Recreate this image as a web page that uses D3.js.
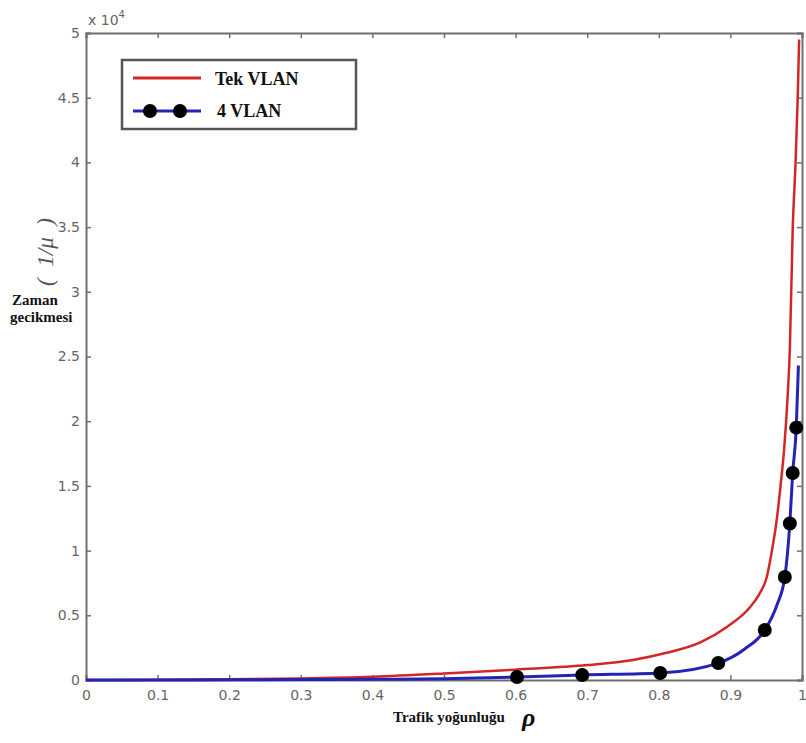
<!DOCTYPE html>
<html>
<head>
<meta charset="utf-8">
<script src="https://cdnjs.cloudflare.com/ajax/libs/d3/7.8.5/d3.min.js"></script>
<style>
  body { margin: 0; background: #fff; }
  .serif { font-family: "Liberation Serif", "Times New Roman", serif; font-weight: bold; fill: #111; }
</style>
</head>
<body>
<div id="chart"></div>
<script>
// values (y in units of 10^4)
var xTicks = [0, 0.1, 0.2, 0.3, 0.4, 0.5, 0.6, 0.7, 0.8, 0.9, 1];
var yTicks = [0, 0.5, 1, 1.5, 2, 2.5, 3, 3.5, 4, 4.5, 5];

// Tek VLAN
var redX = [0, 0.1, 0.2, 0.3, 0.4, 0.5, 0.6, 0.7, 0.764, 0.811, 0.858, 0.895, 0.927, 0.94, 0.951, 0.958, 0.965, 0.97, 0.975, 0.98, 0.983, 0.987, 0.991, 0.994, 0.996];
var redY = [0, 0.002, 0.006, 0.012, 0.025, 0.05, 0.08, 0.115, 0.155, 0.21, 0.29, 0.41, 0.56, 0.66, 0.8, 1.0, 1.25, 1.5, 1.78, 2.2, 2.55, 3.48, 4.0, 4.5, 4.95];

// 4 VLAN line
var blueX = [0, 0.1, 0.2, 0.3, 0.4, 0.5, 0.602, 0.693, 0.802, 0.883, 0.92, 0.948, 0.965, 0.976, 0.983, 0.987, 0.992, 0.995];
var blueY = [0, 0, 0.001, 0.003, 0.005, 0.01, 0.023, 0.039, 0.054, 0.131, 0.24, 0.386, 0.58, 0.796, 1.21, 1.6, 1.95, 2.43];

// 4 VLAN markers
var markX = [0.602, 0.693, 0.802, 0.883, 0.948, 0.976, 0.983, 0.987, 0.992];
var markY = [0.023, 0.039, 0.054, 0.131, 0.386, 0.796, 1.21, 1.6, 1.95];

var W = 806, H = 743;
var margin = {left: 86, right: 802, top: 33, bottom: 680};

var svg = d3.select("#chart").append("svg")
    .attr("width", W)
    .attr("height", H);

var x = d3.scaleLinear().domain([0, 1]).range([margin.left, margin.right]);
var y = d3.scaleLinear().domain([0, 5]).range([margin.bottom, margin.top]);

var axisColor = "#707070";

// frame ticks on top and right
var xTop = svg.append("g")
    .attr("transform", "translate(0," + margin.top + ")")
    .call(d3.axisBottom(x).tickValues(xTicks).tickSize(5).tickFormat(""));
var yRight = svg.append("g")
    .attr("transform", "translate(" + margin.right + ",0)")
    .call(d3.axisLeft(y).tickValues(yTicks).tickSize(5).tickFormat(""));

// bottom and left axes with ticks pointing inward
var xAxis = svg.append("g")
    .attr("transform", "translate(0," + margin.bottom + ")")
    .call(d3.axisTop(x).tickValues(xTicks).tickSize(5).tickFormat(d3.format("")));
xAxis.selectAll("text").attr("y", 10).attr("dy", "0.71em");

var yAxis = svg.append("g")
    .attr("transform", "translate(" + margin.left + ",0)")
    .call(d3.axisRight(y).tickValues(yTicks).tickSize(5).tickFormat(d3.format("")));
yAxis.selectAll("text").attr("x", -6).style("text-anchor", "end");

[xTop, yRight, xAxis, yAxis].forEach(function(g) {
    g.select(".domain").attr("stroke", axisColor).attr("stroke-width", 2);
    g.selectAll(".tick line").attr("stroke", axisColor).attr("stroke-width", 1.5);
    g.selectAll(".tick text")
        .style("font-family", "DejaVu Sans, sans-serif")
        .style("font-size", "14px")
        .style("fill", "#666");
});

// curves
var line = d3.line()
    .x(function(d) { return x(d[0]); })
    .y(function(d) { return y(d[1]); })
    .curve(d3.curveMonotoneX);

svg.append("path")
    .datum(redX.map(function(v, i) { return [v, redY[i]]; }))
    .attr("fill", "none")
    .attr("stroke", "#d42626")
    .attr("stroke-width", 2.5)
    .attr("d", line);

svg.append("path")
    .datum(blueX.map(function(v, i) { return [v, blueY[i]]; }))
    .attr("fill", "none")
    .attr("stroke", "#2424b4")
    .attr("stroke-width", 3)
    .attr("d", line);

svg.selectAll(".mark")
    .data(markX.map(function(v, i) { return [v, markY[i]]; }))
    .enter().append("circle")
    .attr("class", "mark")
    .attr("cx", function(d) { return x(d[0]); })
    .attr("cy", function(d) { return y(d[1]); })
    .attr("r", 7)
    .attr("fill", "#000");

// exponent label
var expo = svg.append("text")
    .attr("x", 88)
    .attr("y", 25)
    .style("font-family", "DejaVu Sans, sans-serif")
    .style("font-size", "14px")
    .style("fill", "#666");
expo.append("tspan").text("x 10");
expo.append("tspan").attr("dy", -7).style("font-size", "10px").text("4");

// legend
var lg = svg.append("g");
lg.append("rect")
    .attr("x", 122).attr("y", 60)
    .attr("width", 234).attr("height", 69)
    .attr("fill", "#fff")
    .attr("stroke", "#555")
    .attr("stroke-width", 2.5);
lg.append("line")
    .attr("x1", 133).attr("x2", 201).attr("y1", 78).attr("y2", 78)
    .attr("stroke", "#d42626").attr("stroke-width", 3);
lg.append("text").attr("class", "serif")
    .attr("x", 215).attr("y", 85)
    .style("font-size", "18px")
    .text("Tek VLAN");
lg.append("line")
    .attr("x1", 133).attr("x2", 201).attr("y1", 111).attr("y2", 111)
    .attr("stroke", "#2424b4").attr("stroke-width", 3);
lg.selectAll(".lm")
    .data([150, 180])
    .enter().append("circle")
    .attr("cx", function(d) { return d; })
    .attr("cy", 111)
    .attr("r", 7)
    .attr("fill", "#000");
lg.append("text").attr("class", "serif")
    .attr("x", 217).attr("y", 117)
    .style("font-size", "18px")
    .text("4 VLAN");

// axis titles
svg.append("text")
    .attr("transform", "translate(53,252) rotate(-90)")
    .style("text-anchor", "middle")
    .style("font-family", "Liberation Serif, serif")
    .style("font-style", "italic")
    .style("font-size", "23px")
    .style("fill", "#555")
    .attr("xml:space", "preserve")
    .style("white-space", "pre")
    .text("(  1/μ  )");

svg.append("text").attr("class", "serif")
    .attr("x", 12).attr("y", 305)
    .style("font-size", "15px")
    .text("Zaman");
svg.append("text").attr("class", "serif")
    .attr("x", 10).attr("y", 322)
    .style("font-size", "15px")
    .text("gecikmesi");

svg.append("text").attr("class", "serif")
    .attr("x", 393).attr("y", 722)
    .style("font-size", "15px")
    .text("Trafik yoğunluğu");
svg.append("text").attr("class", "serif")
    .attr("x", 522).attr("y", 726)
    .style("font-size", "26px")
    .style("font-style", "italic")
    .text("ρ");
</script>
</body>
</html>
